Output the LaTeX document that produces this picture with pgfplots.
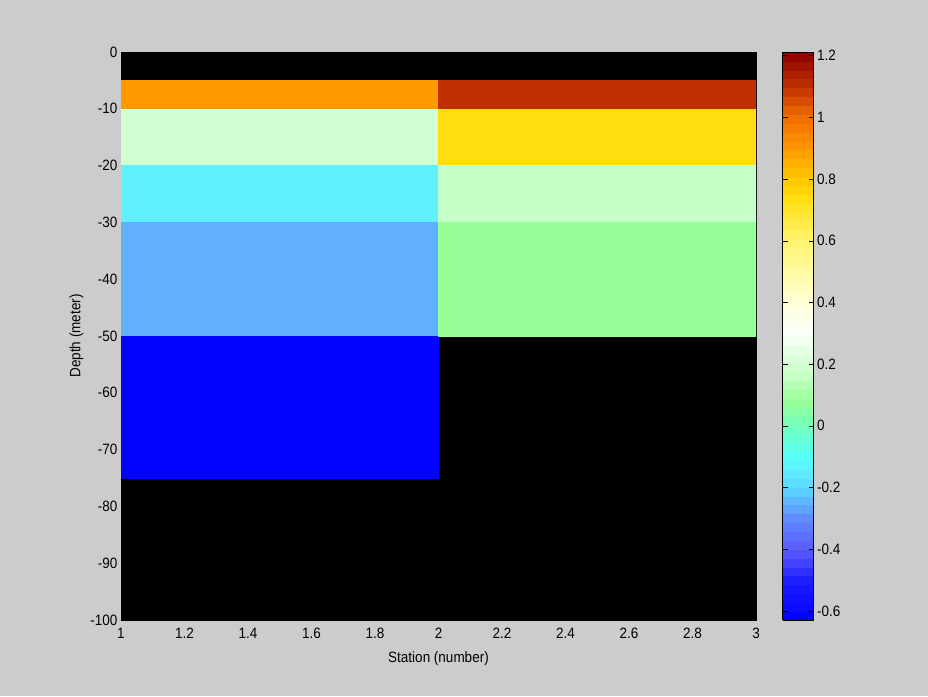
\documentclass[border=0pt]{standalone}
\usepackage{fontspec}
\setmainfont{Liberation Sans}[FakeStretch=0.9]
\usepackage{pgfplots}
\pgfplotsset{compat=1.18}
\definecolor{bg}{RGB}{204,204,204}
\begin{document}
\begin{tikzpicture}[x=1pt,y=1pt]
\fill[bg] (0,0) rectangle (928,696);
\begin{axis}[
  at={(121pt,76pt)}, anchor=south west,
  scale only axis, width=635pt, height=568pt,
  xmin=1, xmax=3, ymin=-100, ymax=0,
  xtick={1,1.2,1.4,1.6,1.8,2,2.2,2.4,2.6,2.8,3},
  ytick={-100,-90,-80,-70,-60,-50,-40,-30,-20,-10,0},
  axis background/.style={fill=black},
  major tick length=0pt,
  font=\fontsize{15}{18}\selectfont,
  /pgf/number format/assume math mode=true,
  xticklabel style={anchor=north, text height=11pt, text depth=0pt, yshift=-4pt},
  xlabel={Station (number)}, ylabel={Depth (meter)},
  xlabel style={yshift=-6pt},
  colormap={jetish}{
    rgb255(0)=(0,0,255)
    rgb255(129)=(30,30,255)
    rgb255(229)=(90,90,255)
    rgb255(329)=(95,140,255)
    rgb255(379)=(96,176,255)
    rgb255(429)=(90,215,255)
    rgb255(489)=(96,240,255)
    rgb255(529)=(85,255,250)
    rgb255(629)=(115,255,190)
    rgb255(709)=(152,255,152)
    rgb255(799)=(200,255,200)
    rgb255(829)=(210,255,210)
    rgb255(929)=(250,255,250)
    rgb255(1029)=(255,255,215)
    rgb255(1229)=(255,245,110)
    rgb255(1369)=(255,221,16)
    rgb255(1429)=(255,200,0)
    rgb255(1529)=(255,153,0)
    rgb255(1629)=(240,110,0)
    rgb255(1729)=(190,48,0)
    rgb255(1840)=(140,0,0)
  },
  point meta min=-0.629, point meta max=1.211,
  colorbar sampled,
  colorbar style={
    at={(parent axis.north east)}, anchor=north west, xshift=18pt,
    width=31pt, samples=65,
    ytick={-0.6,-0.4,-0.2,0,0.2,0.4,0.6,0.8,1,1.2},
    ytick pos=both, yticklabel pos=right,
    tick align=inside, major tick length=5pt,
    tick style={black},
    font=\fontsize{15}{18}\selectfont,
    /pgf/number format/assume math mode=true,
  },
]
\addplot[patch, patch type=rectangle, shader=flat, point meta=explicit]
table[meta=c] {
x y c
1 -5 0.9
2 -5 0.9
2 -10 0.9
1 -10 0.9
1 -10 0.2
2 -10 0.2
2 -20 0.2
1 -20 0.2
1 -20 -0.14
2 -20 -0.14
2 -30 -0.14
1 -30 -0.14
1 -30 -0.25
2 -30 -0.25
2 -50 -0.25
1 -50 -0.25
1 -50 -0.62
2 -50 -0.62
2 -75 -0.62
1 -75 -0.62
2 -5 1.1
3 -5 1.1
3 -10 1.1
2 -10 1.1
2 -10 0.74
3 -10 0.74
3 -20 0.74
2 -20 0.74
2 -20 0.17
3 -20 0.17
3 -30 0.17
2 -30 0.17
2 -30 0.08
3 -30 0.08
3 -50 0.08
2 -50 0.08
};
\end{axis}
\end{tikzpicture}
\end{document}
